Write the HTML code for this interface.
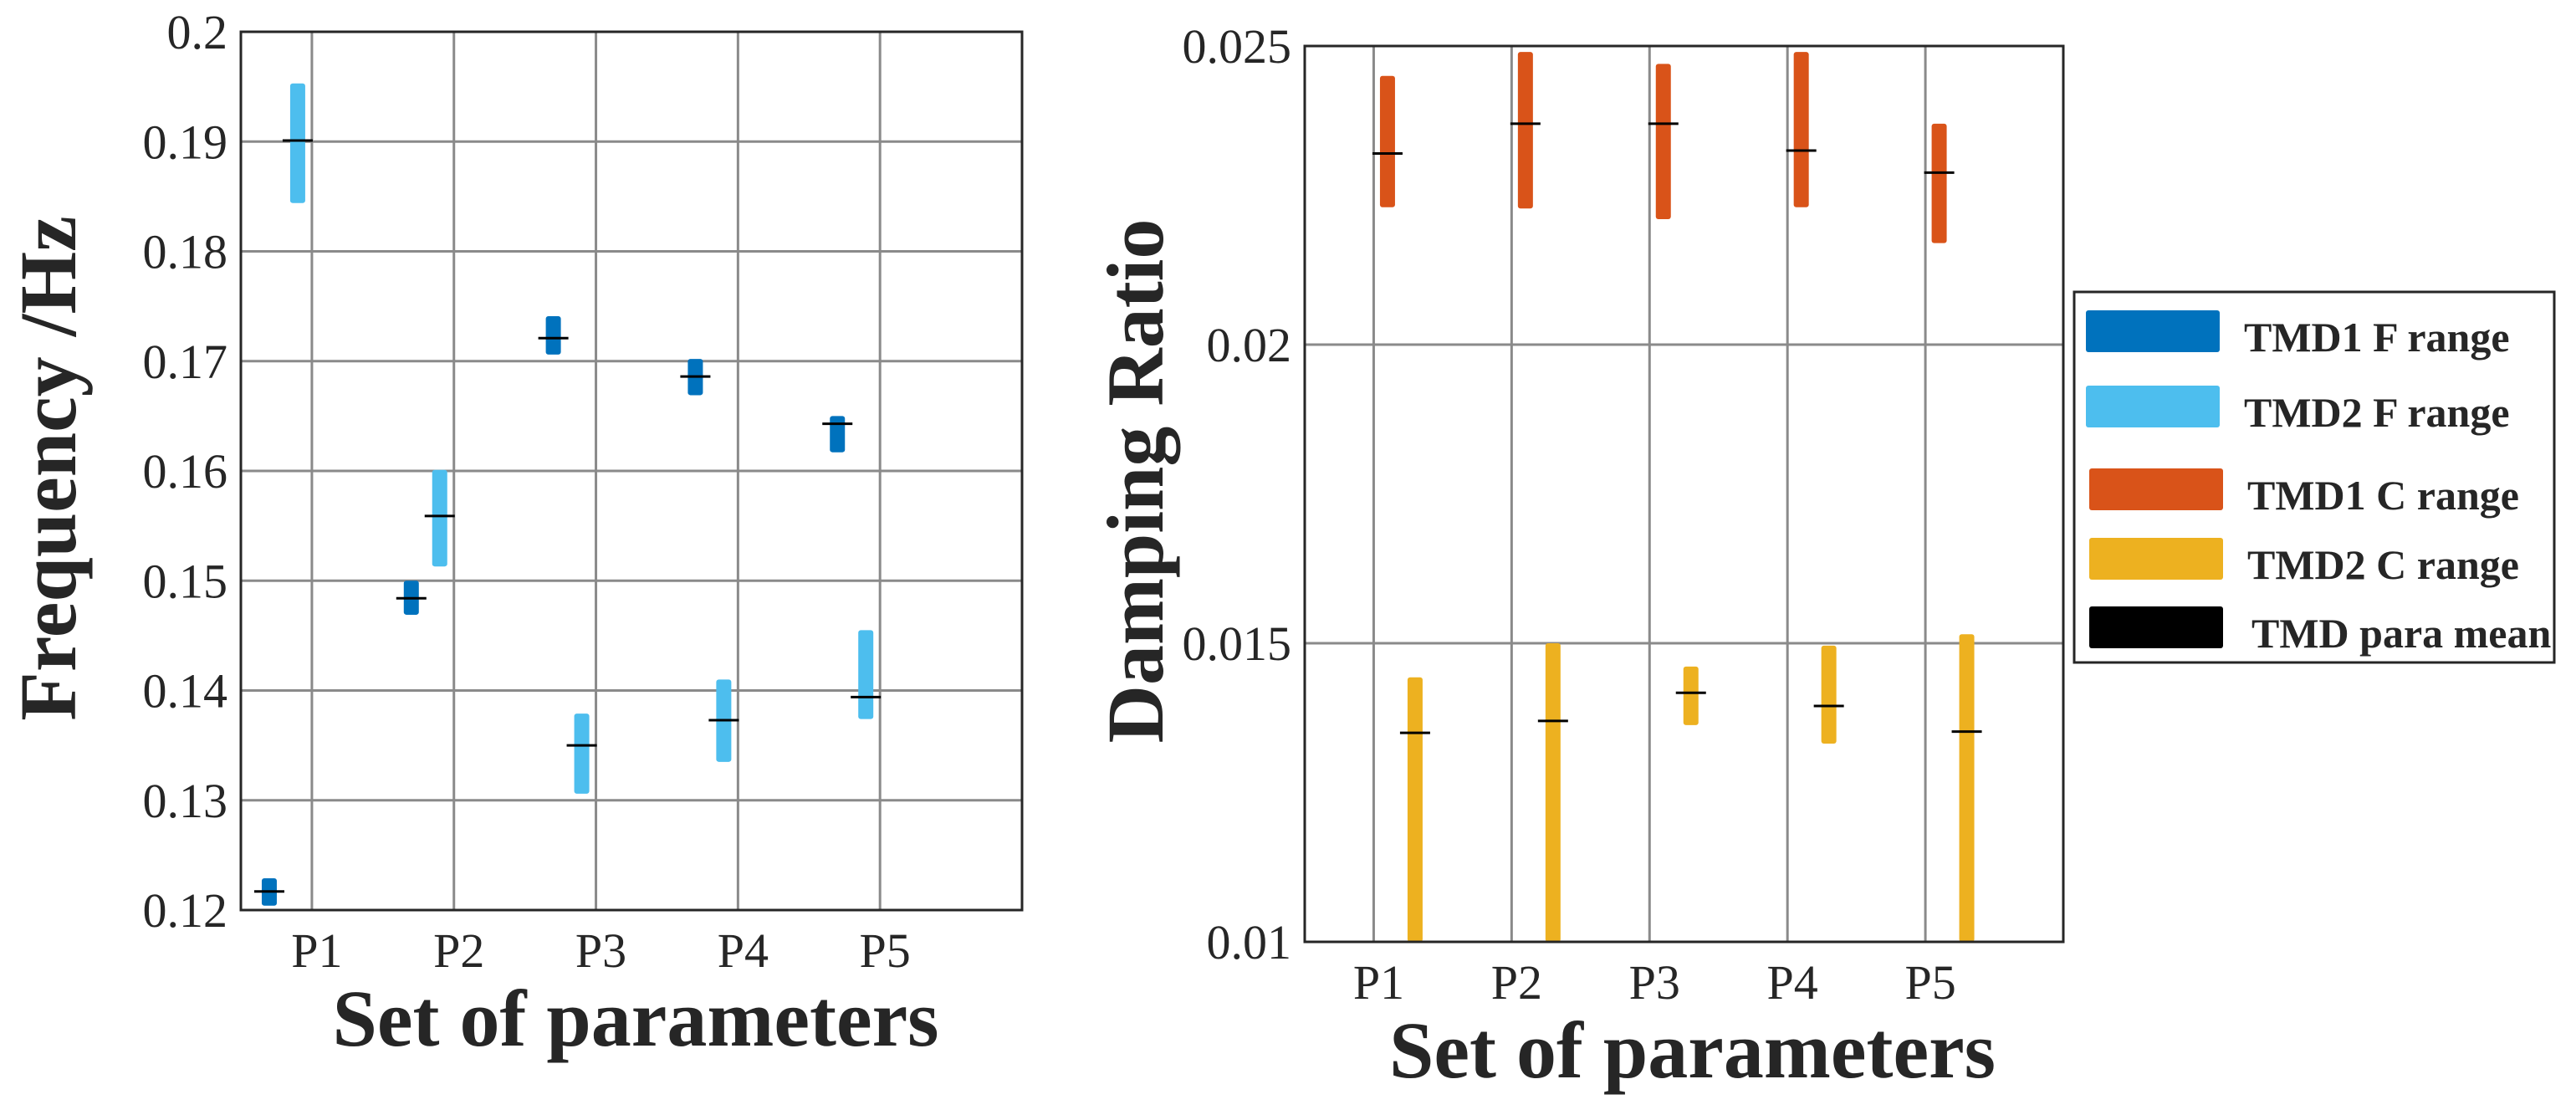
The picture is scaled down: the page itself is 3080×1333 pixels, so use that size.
<!DOCTYPE html>
<html><head><meta charset="utf-8"><style>
html,body{margin:0;padding:0;background:#fff;}
svg{display:block;}
svg text{font-family:"Liberation Serif","Times New Roman","DejaVu Serif",serif;fill:#262626;}
</style></head><body>
<svg id="c" width="3080" height="1333" viewBox="0 0 3080 1333" xmlns="http://www.w3.org/2000/svg" font-family="Liberation Serif, serif"></svg>
<script>
const categories = ["P1","P2","P3","P4","P5"];
const tmd1F_min = [0.1204,0.1469,0.1706,0.1669,0.1617];
const tmd1F_max = [0.1229,0.1500,0.1741,0.1702,0.1650];
const tmd1F_mean = [0.1217,0.1484,0.1721,0.1686,0.1643];
const tmd2F_min = [0.1844,0.1513,0.1306,0.1335,0.1374];
const tmd2F_max = [0.1953,0.1601,0.1379,0.1410,0.1455];
const tmd2F_mean = [0.1901,0.1559,0.1350,0.1373,0.1394];
const tmd1C_min = [0.0223,0.02228,0.0221,0.0223,0.0217];
const tmd1C_max = [0.0245,0.0249,0.0247,0.0249,0.0237];
const tmd1C_mean = [0.0232,0.0237,0.0237,0.02325,0.02288];
const tmd2C_min = [0.0100,0.0100,0.01363,0.01332,0.0100];
const tmd2C_max = [0.01443,0.0150,0.01461,0.01496,0.01515];
const tmd2C_mean = [0.0135,0.0137,0.01417,0.01395,0.01352];
const leftYTicks = [0.12,0.13,0.14,0.15,0.16,0.17,0.18,0.19,0.2];
const leftYLabels = ["0.12","0.13","0.14","0.15","0.16","0.17","0.18","0.19","0.2"];
const rightYTicks = [0.01,0.015,0.02,0.025];
const rightYLabels = ["0.01","0.015","0.02","0.025"];
const legendLabels = ["TMD1 F range","TMD2 F range","TMD1 C range","TMD2 C range","TMD para mean"];
const legendColors = ["#0072BD","#4DBEEE","#D95319","#EDB120","#000000"];

const svg = document.getElementById('c');
const NS = "http://www.w3.org/2000/svg";
const FF = '"Liberation Serif", "Times New Roman", serif';
function mk(tag, attrs, parent){const e=document.createElementNS(NS,tag);for(const k in attrs)e.setAttribute(k,attrs[k]);if(tag==='text')e.style.fontFamily=FF;(parent||svg).appendChild(e);return e;}

function makeAxis(cfg){
  const xs = v => cfg.x0 + (v-0.5)/(6-0.5)*(cfg.x1-cfg.x0);
  const ys = v => cfg.y1 - (v-cfg.ymin)/(cfg.ymax-cfg.ymin)*(cfg.y1-cfg.y0);
  const g = mk('g',{});
  
  
  for(let i=0;i<categories.length;i++){
    const l = mk('line',{x1:xs(i+1),x2:xs(i+1),y1:cfg.y0,y2:cfg.y1,stroke:'#8a8a8a','stroke-width':3},g);
    
    
  }
  cfg.yt.forEach((t,i)=>{
    const l = mk('line',{x1:cfg.x0,x2:cfg.x1,y1:ys(t),y2:ys(t),stroke:'#8a8a8a','stroke-width':3},g);
    
    
    const tx = mk('text',{x:cfg.x0-16,y:ys(t)+20,'text-anchor':'end','font-size':58},g);
    tx.textContent = cfg.yl[i];
    
    
  });
  categories.forEach((c,i)=>{
    const tx = mk('text',{x:xs(i+1)+6,y:cfg.y1+68,'text-anchor':'middle','font-size':58},g);
    tx.textContent = c;
    
    
  });
  cfg.series.forEach(s=>{
    for(let i=0;i<categories.length;i++){
      const cx = xs(i+1+s.off);
      const r = mk('rect',{x:cx-9,y:ys(s.max[i]),width:18,height:Math.max(1,ys(s.min[i])-ys(s.max[i])),rx:3,fill:s.color},g);
      
      
    }
  });
  cfg.series.forEach(s=>{
    for(let i=0;i<categories.length;i++){
      const cx = xs(i+1+s.off);
      const m = mk('line',{x1:cx-18,x2:cx+18,y1:ys(s.mean[i]),y2:ys(s.mean[i]),stroke:'#000','stroke-width':3},g);
      
      
    }
  });
  const b = mk('rect',{x:cfg.x0,y:cfg.y0,width:cfg.x1-cfg.x0,height:cfg.y1-cfg.y0,fill:'none',stroke:'#262626','stroke-width':3},g);
  
  
  const xt = mk('text',{x:(cfg.x0+cfg.x1)/2+(cfg.xtOff||0),y:cfg.xtY,'text-anchor':'middle','font-size':96,'font-weight':'bold'},g);
  xt.textContent = 'Set of parameters';
  
  
  const yt = mk('text',{x:0,y:0,'text-anchor':'middle','font-size':96,'font-weight':'bold',transform:`translate(${cfg.ytX},${cfg.ytY}) rotate(-90)`},g);
  yt.textContent = cfg.ytitle;
  
  
}

makeAxis({name:'frequency-plot',x0:288,x1:1222,y0:38,y1:1088,ymin:0.12,ymax:0.2,yt:leftYTicks,yl:leftYLabels,
  xtY:1250,xtOff:5,ytX:90,ytY:560,ytitle:'Frequency /Hz',
  series:[{name:'tmd1-f',off:-0.3,color:'#0072BD',min:tmd1F_min,max:tmd1F_max,mean:tmd1F_mean},
          {name:'tmd2-f',off:-0.1,color:'#4DBEEE',min:tmd2F_min,max:tmd2F_max,mean:tmd2F_mean}]});
makeAxis({name:'damping-plot',x0:1560,x1:2467,y0:55,y1:1126,ymin:0.01,ymax:0.025,yt:rightYTicks,yl:rightYLabels,
  xtY:1288,xtOff:10,ytX:1390,ytY:575,ytitle:'Damping Ratio',
  series:[{name:'tmd1-c',off:0.1,color:'#D95319',min:tmd1C_min,max:tmd1C_max,mean:tmd1C_mean},
          {name:'tmd2-c',off:0.3,color:'#EDB120',min:tmd2C_min,max:tmd2C_max,mean:tmd2C_mean}]});

const lg = mk('g',{});


const lb = mk('rect',{x:2480,y:349,width:574,height:443,fill:'#fff',stroke:'#262626','stroke-width':3},lg);


const lyc = [396,486,585,668,750];
legendLabels.forEach((t,i)=>{
  const sw = mk('rect',{x:2494+(i>=2?4:0),y:lyc[i]-25,width:160,height:50,rx:3,fill:legendColors[i]},lg);
  
  
  const tx = mk('text',{x:2683+(i>=2?4:0)+(i==4?5:0),y:lyc[i]+24,'font-size':50,'font-weight':'bold',fill:'#000'},lg);
  tx.textContent = t;
  
  
});
</script>
</body></html>
